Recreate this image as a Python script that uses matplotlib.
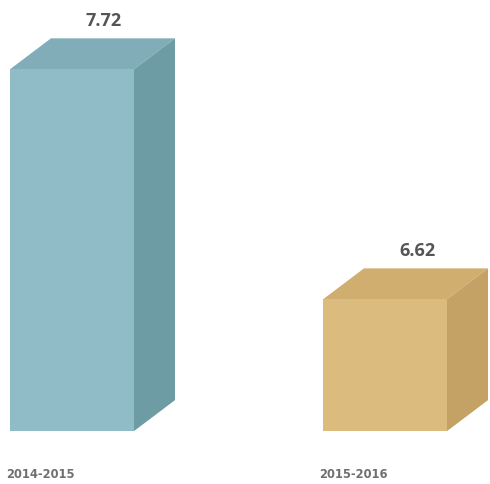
import matplotlib.pyplot as plt
from matplotlib.patches import Polygon

# data
categories = ['2014-2015', '2015-2016']
values = [7.72, 6.62]
labels = ['7.72', '6.62']

# styling
front_colors = ['#90bcc7', '#dcbb7e']
top_colors = ['#80adb8', '#d0ae70']
side_colors = ['#6e9ca5', '#c4a164']
base = 5.99          # value axis starts here (bars are not zero based)
x_pos = [10, 323]    # left edge of front face, in axis x units (pixels)
bar_w = 124
dx = 41              # depth offset, x
dy = 0.148           # depth offset, in value units

fig = plt.figure(figsize=(4.9, 4.85), dpi=100)
ax = fig.add_axes([0, 0, 1, 1])
ax.set_xlim(0, 490)
ax.set_ylim(5.737, 8.056)
ax.axis('off')

for i, v in enumerate(values):
    x0 = x_pos[i]
    x1 = x0 + bar_w
    # front face
    ax.bar(x0, v - base, width=bar_w, bottom=base, align='edge',
           color=front_colors[i], edgecolor='none', zorder=3)
    # top face
    top = Polygon([(x0, v), (x1, v), (x1 + dx, v + dy), (x0 + dx, v + dy)],
                  closed=True, facecolor=top_colors[i], edgecolor='none', zorder=2)
    ax.add_patch(top)
    # side face
    side = Polygon([(x1, base), (x1 + dx, base + dy), (x1 + dx, v + dy), (x1, v)],
                   closed=True, facecolor=side_colors[i], edgecolor='none', zorder=2)
    ax.add_patch(side)

    ax.text(x0 + bar_w / 2 + 32, v + dy + 0.045, labels[i], ha='center', va='bottom',
            fontsize=13, fontweight='bold', color='#555555', family='Open Sans')
    ax.text(x0 - 4, 5.785, categories[i], ha='left', va='center',
            fontsize=8.3, fontweight='bold', color='#707070')

plt.savefig('out.png', dpi=100)
